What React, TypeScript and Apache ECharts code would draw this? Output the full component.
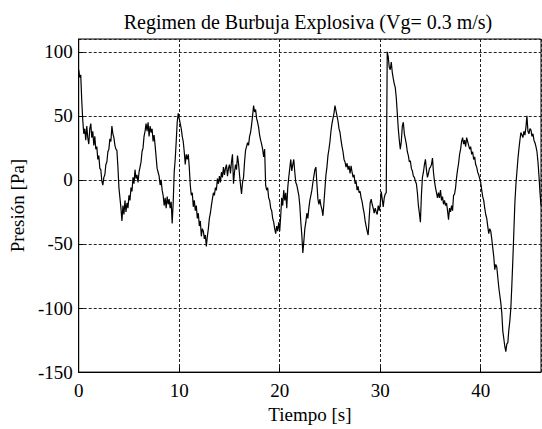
import React, { useEffect, useRef } from "react";
import * as echarts from "echarts";

const titleText = "Regimen de Burbuja Explosiva (Vg= 0.3 m/s)";
const xName = "Tiempo [s]";
const yName = "Presión [Pa]";
const xTicks = [0, 10, 20, 30, 40];
const yTicks = [-150, -100, -50, 0, 50, 100];
const sampleStep = 0.1; // seconds between samples
const pressure = [
  86, 80, 82, 62, 47, 36, 40, 31, 42, 33,
  28, 40, 44, 33, 38, 27, 34, 24, 26, 16,
  19, 9, 8, -1, -4, 2, 4, 12, 14, 22,
  24, 32, 30, 42, 36, 33, 27, 24, 23, 10,
  -6, -14, -22, -32, -20, -27, -16, -25, -18, -22,
  -12, -16, -6, -9, 2, -3, 8, 1, 4, -2,
  6, 10, 14, 22, 25, 34, 38, 44, 38, 45,
  34, 42, 37, 40, 30, 35, 27, 18, 9, 6,
  3, -4, 0, -8, -12, -20, -14, -22, -13, -19,
  -15, -22, -17, -34, -18, 6, 16, 30, 45, 52,
  48, 44, 40, 34, 30, 22, 12, 20, 16, 20,
  10, -4, -12, -10, -21, -16, -24, -20, -30, -26,
  -36, -32, -44, -38, -40, -46, -43, -52, -44, -38,
  -30, -26, -20, -15, -10, -12, -6, -8, 1, -3,
  3, -2, 6, 2, 10, 4, 9, 12, 3, 9,
  12, 5, 14, 20, -3, 6, 12, 8, 19, 13,
  4, -4, -11, -2, 2, 14, 23, 26, 29, 27,
  34, 37, 43, 50, 58, 53, 55, 48, 45, 41,
  35, 31, 28, 24, 18, 24, -4, -8, -6, -14,
  -16, -22, -24, -30, -33, -38, -42, -36, -40, -33,
  -40, -28, -14, -20, -8, -16, -10, -22, -6, 2,
  9, 16, 7, 12, 16, 6, -2, -4, -8, -12,
  -20, -33, -43, -57, -48, -38, -33, -26, -30, -22,
  -16, -12, -8, -2, 3, 8, 10, -3, -15, -19,
  -15, -20, -23, -28, -18, -7, 4, 10, 19, 24,
  30, 38, 44, 48, 52, 58, 54, 50, 46, 40,
  37, 31, 26, 22, 16, 14, 10, 13, 8, 11,
  5, 11, 6, 2, 4, -3, -1, -8, -5, -10,
  -9, -14, -17, -22, -26, -32, -36, -40, -43, -30,
  -18, -15, -19, -22, -26, -22, -25, -27, -20, -24,
  -19, -9, -15, -21, -14, -11, -10, 100, 96, 88,
  86, 92, 84, 79, 75, 72, 64, 52, 40, 31,
  24, 30, 42, 45, 36, 32, 28, 22, 19, 14,
  15, 9, 7, 3, 2, -1, -3, -10, -20, -26,
  -33, -12, 2, 6, 12, 16, 8, 2, 5, 9,
  10, 12, 17, 6, -1, -6, -10, -14, -10, -14,
  -8, -16, -13, -19, -16, -20, -18, -24, -31, -22,
  -25, -20, -24, -12, -11, -6, 2, 8, 13, 20,
  24, 30, 33, 28, 31, 26, 33, 30, 27, 24,
  26, 20, 22, 16, 18, 12, 10, 6, 4, 1,
  -2, -8, -13, -16, -22, -27, -30, -36, -42, -38,
  -40, -46, -53, -60, -70, -66, -68, -76, -84, -90,
  -96, -104, -118, -124, -130, -134, -128, -127, -117, -110,
  -100, -82, -62, -40, -18, -4, 6, 16, 24, 31,
  37, 35, 33, 38, 35, 41, 50, 38, 36, 40,
  39, 34, 36, 31, 29, 26, 22, 14, 3, -10,
  -20,
];

const FONT = "'Liberation Serif', 'Times New Roman', serif";

export default function App() {
  const ref = useRef<HTMLDivElement>(null);
  useEffect(() => {
    if (!ref.current) return;
    const chart = echarts.init(ref.current, null, { renderer: "svg" });
    const seriesData = pressure.map((v, i) => [+(i * sampleStep).toFixed(2), v]);
    chart.setOption({
      animation: false,
      backgroundColor: "#ffffff",
      title: {
        text: titleText,
        left: 303,
        top: 7,
        textAlign: "center",
        textStyle: { fontFamily: FONT, fontSize: 20, fontWeight: "normal", color: "#000" },
      },
      grid: {
        left: 75,
        right: 1,
        top: 39,
        bottom: 44,
        show: true,
        borderColor: "#000",
        borderWidth: 1,
        containLabel: false,
      },
      xAxis: {
        type: "value",
        min: 0,
        max: 46,
        interval: 10,
        name: xName,
        nameLocation: "middle",
        nameGap: 27,
        nameTextStyle: { fontFamily: FONT, fontSize: 19, color: "#000", verticalAlign: "top" },
        axisLine: { show: true, onZero: false, lineStyle: { color: "#000", width: 1 } },
        axisTick: { show: true, inside: true, length: 5, lineStyle: { color: "#000" } },
        axisLabel: {
          showMaxLabel: false,
          margin: 9,
          fontFamily: FONT,
          fontSize: 19,
          color: "#000",
          formatter: (v: number) => (xTicks.includes(v) ? String(v) : ""),
        },
        splitLine: { show: true, lineStyle: { color: "#222", width: 1, type: [3, 2] } },
      },
      yAxis: {
        type: "value",
        min: -150,
        max: 110,
        interval: 50,
        name: yName,
        nameLocation: "middle",
        nameGap: 48,
        nameRotate: 90,
        nameTextStyle: { fontFamily: FONT, fontSize: 19, color: "#000" },
        axisLine: { show: true, onZero: false, lineStyle: { color: "#000", width: 1 } },
        axisTick: { show: true, inside: true, length: 5, lineStyle: { color: "#000" } },
        axisLabel: {
          showMaxLabel: false,
          margin: 6,
          fontFamily: FONT,
          fontSize: 19,
          color: "#000",
          formatter: (v: number) => (yTicks.includes(v) ? String(v) : ""),
        },
        splitLine: { show: true, lineStyle: { color: "#222", width: 1, type: [3, 2] } },
      },
      series: [
        {
          type: "line",
          data: seriesData,
          showSymbol: false,
          symbol: "none",
          lineStyle: { color: "#000", width: 1.2 },
          clip: true,
        },
      ],
    });
    return () => chart.dispose();
  }, []);
  return (
    <div
      ref={ref}
      style={{ position: "absolute", left: 0, top: 0, width: 542, height: 429, background: "#fff" }}
    />
  );
}
